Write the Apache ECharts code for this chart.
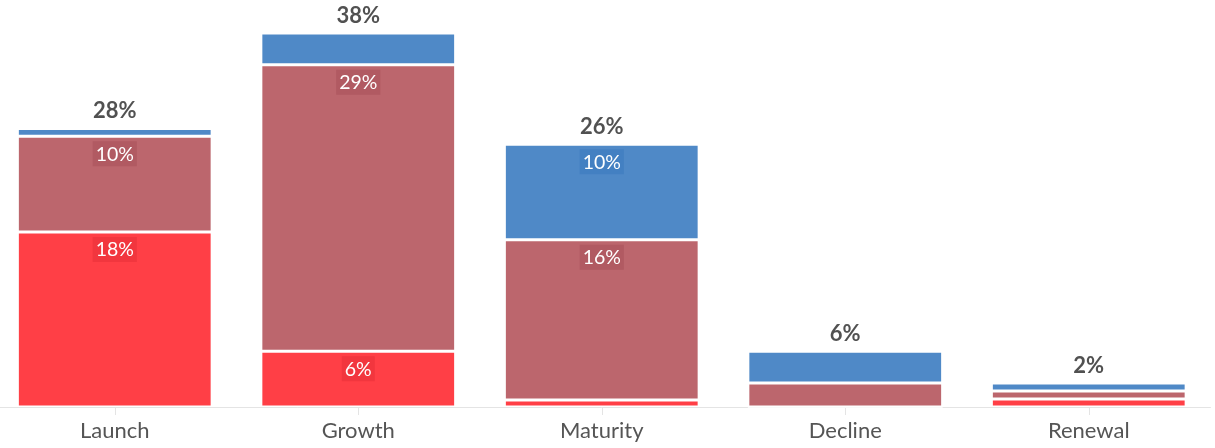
<!DOCTYPE html>
<html>
<head>
<meta charset="utf-8">
<style>
  html, body { margin: 0; padding: 0; background: #ffffff; overflow: hidden; }
  #chart { position: absolute; left: -7px; top: 0; width: 1222px; height: 448px; }
</style>
<script src="https://cdn.jsdelivr.net/npm/echarts@6/dist/echarts.min.js"></script>
</head>
<body>
<div id="chart"></div>
<script>
// Lifecycle stages along the x axis
const stages = ['Launch', 'Growth', 'Maturity', 'Decline', 'Renewal'];

// Share (%) per stage for each stacked segment, bottom to top
const bottomShare = [17.6, 5.6, 0.7, 0, 0.8];
const middleShare = [9.6, 28.8, 16.1, 2.4, 0.8];
const topShare    = [0.8, 3.2, 9.6, 3.2, 0.8];

const segmentColors = ['#ff3f46', '#bc666d', '#4f89c7'];
const labelBoxColors = ['#f2363e', '#b15a62', '#4380c2'];

const totals = stages.map((_, i) =>
  +(bottomShare[i] + middleShare[i] + topShare[i]).toFixed(2));

const FONT = 'Lato, "Noto Sans", sans-serif';

// Segments smaller than this carry no inside label
const LABEL_MIN = 4;

function segment(name, values, idx) {
  return {
    name: name,
    type: 'bar',
    stack: 'share',
    barWidth: '80%',
    data: values.map(v => ({ value: v, label: { show: v >= LABEL_MIN } })),
    itemStyle: {
      color: segmentColors[idx],
      borderColor: '#ffffff',
      borderWidth: 1.5
    },
    label: {
      position: 'insideTop',
      distance: 5,
      fontFamily: FONT,
      fontSize: 19.5,
      color: '#ffffff',
      backgroundColor: labelBoxColors[idx],
      padding: [3, 3, 2, 3],
      formatter: p => Math.round(p.value) + '%'
    },
    emphasis: { disabled: true }
  };
}

const chart = echarts.init(document.getElementById('chart'));
chart.setOption({
  animation: false,
  grid: { left: 0, right: 4.5, top: 9, bottom: 41, containLabel: false },
  xAxis: {
    type: 'category',
    data: stages,
    axisLine: { show: true, lineStyle: { color: '#e4e4e4', width: 1 } },
    axisTick: { show: true, alignWithLabel: true, length: 8, lineStyle: { color: '#e4e4e4' } },
    axisLabel: { fontFamily: FONT, fontSize: 22, color: '#555555', margin: 13 }
  },
  yAxis: {
    type: 'value',
    min: 0,
    max: 40,
    show: false,
    splitLine: { show: false }
  },
  series: [
    segment('Bottom', bottomShare, 0),
    segment('Middle', middleShare, 1),
    segment('Top', topShare, 2),
    {
      // Stack totals, written above each column
      name: 'Total',
      type: 'scatter',
      data: totals,
      symbol: 'circle',
      symbolSize: 0,
      itemStyle: { color: 'rgba(0,0,0,0)' },
      silent: true,
      label: {
        show: true,
        position: 'top',
        distance: 6,
        fontFamily: FONT,
        fontSize: 22,
        fontWeight: 'bold',
        color: '#262626',
        formatter: p => Math.round(p.value) + '%'
      }
    }
  ]
});
</script>
</body>
</html>
